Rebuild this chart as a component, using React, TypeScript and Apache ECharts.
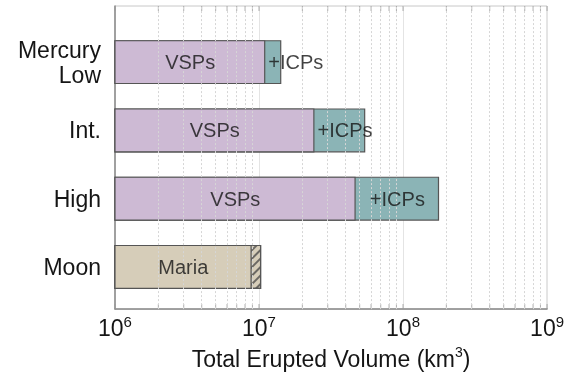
import React, { useEffect, useRef } from 'react';
import * as echarts from 'echarts';

const CATEGORIES = ['Mercury\nLow', 'Int.', 'High', 'Moon'];
const VSP_VOLUME = [1.1e7, 2.41e7, 4.65e7, null];
const ICP_TOTAL_VOLUME = [1.42e7, 5.42e7, 1.76e8, null];
const MARIA_VOLUME = [null, null, null, 8.85e6];
const MOON_TOTAL_VOLUME = [null, null, null, 1.03e7];
const MAJOR_TICKS = [1e6, 1e7, 1e8, 1e9];
const MINOR_MULTIPLIERS = [2, 3, 4, 5, 6, 7, 8, 9];
const X_MIN = 1e6;
const X_MAX = 1e9;

const FONT = '"Liberation Sans", Arial, Helvetica, sans-serif';
const C_VSP = '#cdbad4';
const C_ICP = '#8bb4b6';
const C_MARIA = '#d6cdb9';
const C_BORDER = '#555555';
const C_TEXT = '#151515';

export default function App() {
  const ref = useRef<HTMLDivElement>(null);
  useEffect(() => {
    if (!ref.current) return;
    const chart = echarts.init(ref.current, null, { renderer: 'svg' });

    const minorTicks = MAJOR_TICKS.slice(0, -1).flatMap((d) => MINOR_MULTIPLIERS.map((m) => m * d));
    const allTicks = [...MAJOR_TICKS, ...minorTicks];

    const labelData: any[] = [];
    CATEGORIES.forEach((_, i) => {
      const v = VSP_VOLUME[i];
      const t = ICP_TOTAL_VOLUME[i];
      if (v != null) {
        labelData.push({ value: [Math.sqrt(X_MIN * v), i], label: { formatter: 'VSPs', position: 'inside' } });
      }
      if (v != null && t != null) {
        const fits = Math.log10(t / v) > 0.45;
        if (fits) {
          labelData.push({ value: [Math.sqrt(v * t), i], label: { formatter: '+ICPs', position: 'inside' } });
        } else {
          labelData.push({ value: [v, i], label: { formatter: '+ICPs', position: 'right', distance: 3 } });
        }
      }
      const m = MARIA_VOLUME[i];
      if (m != null) {
        labelData.push({ value: [Math.sqrt(X_MIN * m), i], label: { formatter: 'Maria', position: 'inside' } });
      }
    });

    const barBase = {
      type: 'bar',
      xAxisIndex: 1,
      yAxisIndex: 1,
      barWidth: 44,
      barGap: '-100%',
      silent: true,
    };

    chart.setOption({
      animation: false,
      textStyle: { fontFamily: FONT },
      grid: [
        { left: 115, right: 19, top: 6, bottom: 59, show: true, borderColor: '#c8c8c8', borderWidth: 1, backgroundColor: 'transparent' },
        { left: 115, right: 19, top: 28, bottom: 74 },
      ],
      xAxis: [
        {
          type: 'log',
          gridIndex: 0,
          min: X_MIN,
          max: X_MAX,
          logBase: 10,
          axisLine: { show: true, lineStyle: { color: '#8a8a8a', width: 1.5 } },
          axisTick: { show: false },
          splitLine: { show: true, lineStyle: { color: '#e4e4e4', width: 1 } },
          axisLabel: {
            margin: 5,
            color: C_TEXT,
            formatter: (v: number) => '{b|10}{sup|' + Math.round(Math.log10(v)) + '}',
            rich: {
              b: { fontSize: 23, lineHeight: 28, color: C_TEXT, fontFamily: FONT },
              sup: { fontSize: 15, lineHeight: 18, verticalAlign: 'top', color: C_TEXT, fontFamily: FONT },
            },
          },
          name: '{n|Total Erupted Volume (km}{s|3}{n|)}',
          nameLocation: 'middle',
          nameGap: 35,
          nameTextStyle: {
            rich: {
              n: { fontSize: 23, lineHeight: 28, color: C_TEXT, fontFamily: FONT },
              s: { fontSize: 14, lineHeight: 20, verticalAlign: 'top', color: C_TEXT, fontFamily: FONT },
            },
          },
        },
        { type: 'log', gridIndex: 1, min: X_MIN, max: X_MAX, logBase: 10, show: false },
      ],
      yAxis: [
        {
          type: 'value',
          gridIndex: 0,
          min: 0,
          max: 1,
          axisLine: { show: true, lineStyle: { color: '#8a8a8a', width: 1.5 } },
          axisTick: { show: false },
          axisLabel: { show: false },
          splitLine: { show: false },
        },
        {
          type: 'category',
          gridIndex: 1,
          inverse: true,
          data: CATEGORIES,
          axisLine: { show: false },
          axisTick: { show: false },
          splitLine: { show: false },
          axisLabel: { fontSize: 23, lineHeight: 25, color: C_TEXT, margin: 14, fontFamily: FONT },
        },
      ],
      series: [
        {
          type: 'scatter',
          xAxisIndex: 0,
          yAxisIndex: 0,
          silent: true,
          symbol: 'rect',
          symbolSize: [1, 5],
          symbolOffset: [0, -2.5],
          itemStyle: { color: '#9a9a9a' },
          data: allTicks.map((v) => [v, 0]),
          markLine: {
            silent: true,
            symbol: ['none', 'none'],
            label: { show: false },
            lineStyle: { color: '#d6d6d6', type: [2, 2], width: 1 },
            data: minorTicks.map((v) => ({ xAxis: v })),
          },
        },
        {
          type: 'scatter',
          xAxisIndex: 0,
          yAxisIndex: 0,
          silent: true,
          symbol: 'rect',
          symbolSize: [1, 5],
          symbolOffset: [0, 2.5],
          itemStyle: { color: '#9a9a9a' },
          data: allTicks.map((v) => [v, 1]),
        },
        {
          ...barBase,
          name: 'ICPs',
          data: ICP_TOTAL_VOLUME.map((v) => (v == null ? '-' : v)),
          itemStyle: { color: C_ICP, borderColor: C_BORDER, borderWidth: 1.2 },
        },
        {
          ...barBase,
          name: 'VSPs',
          data: VSP_VOLUME.map((v) => (v == null ? '-' : v)),
          itemStyle: { color: C_VSP, borderColor: C_BORDER, borderWidth: 1.2 },
        },
        {
          ...barBase,
          name: 'Moon total',
          data: MOON_TOTAL_VOLUME.map((v) => (v == null ? '-' : v)),
          itemStyle: {
            color: C_MARIA,
            borderColor: C_BORDER,
            borderWidth: 1.2,
            decal: {
              symbol: 'rect',
              symbolSize: 1,
              color: 'rgba(70,70,70,0.75)',
              dashArrayX: [1, 0],
              dashArrayY: [1.2, 4],
              rotation: -Math.PI / 4,
            },
          },
        },
        {
          ...barBase,
          name: 'Maria',
          data: MARIA_VOLUME.map((v) => (v == null ? '-' : v)),
          itemStyle: { color: C_MARIA, borderColor: C_BORDER, borderWidth: 1.2 },
        },
        {
          type: 'scatter',
          xAxisIndex: 1,
          yAxisIndex: 1,
          silent: true,
          z: 10,
          symbolSize: 0,
          itemStyle: { color: 'transparent' },
          label: { show: true, fontSize: 20, color: C_TEXT, fontFamily: FONT },
          data: labelData,
        },
      ],
    });
    return () => chart.dispose();
  }, []);
  return <div ref={ref} style={{ position: 'fixed', left: 0, top: 0, width: 567, height: 375 }} />;
}
